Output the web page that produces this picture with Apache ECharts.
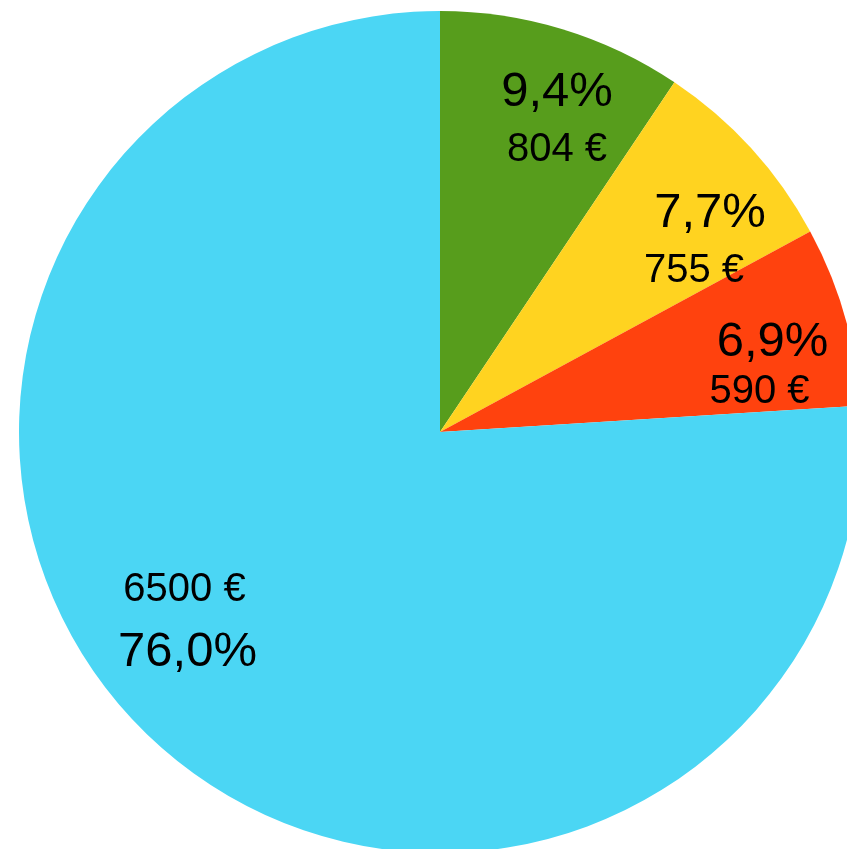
<!DOCTYPE html>
<html>
<head>
<meta charset="utf-8">
<script src="https://cdn.jsdelivr.net/npm/echarts@6/dist/echarts.min.js"></script>
<style>
html,body{margin:0;padding:0;background:#fff;}
#chart{width:847px;height:849px;}
</style>
</head>
<body>
<div id="chart"></div>
<script>
// Data
const percentValues = [9.4, 7.7, 6.9, 76.0];
const amounts = [804, 755, 590, 6500];
const amountFirst = [false, false, false, true];

// Styling
const colors = ['#579d1c', '#ffd320', '#ff420e', '#4bd6f4'];
const pieCenter = [440, 432];
const pieRadius = 421;
// label block centre offsets from the pie centre (px)
const labelOffsets = [[117, -311], [262, -190], [326, -65], [-254, 189]];
const lineHeights = [57, 58, 50, 63];
const pctShift = [0, 16, 13, 3]; // padding to shift percent line
const fontFamily = '"Liberation Sans", Arial, sans-serif';

function fmtPct(v) { return v.toFixed(1).replace('.', ',') + '%'; }

const chart = echarts.init(document.getElementById('chart'), null, { renderer: 'canvas' });

const data = percentValues.map(function (v, i) {
  const s = pctShift[i];
  const pPad = s >= 0 ? [0, 0, 0, s] : [0, -s, 0, 0];
  const aPad = s >= 0 ? [0, s, 0, 0] : [0, 0, 0, -s];
  const pct = '{p|' + fmtPct(v) + '}';
  const amt = '{a|' + amounts[i] + ' €}';
  return {
    value: v,
    itemStyle: { color: colors[i] },
    label: {
      formatter: amountFirst[i] ? amt + '\n' + pct : pct + '\n' + amt,
      rich: {
        p: { fontSize: 49, fontFamily: fontFamily, color: '#000', lineHeight: lineHeights[i], align: 'center', padding: pPad },
        a: { fontSize: 40, fontFamily: fontFamily, color: '#000', lineHeight: lineHeights[i], align: 'center', padding: aPad }
      }
    }
  };
});

chart.setOption({
  animation: false,
  backgroundColor: '#ffffff',
  series: [{
    type: 'pie',
    center: pieCenter,
    radius: pieRadius,
    startAngle: 90,
    clockwise: true,
    avoidLabelOverlap: false,
    silent: true,
    itemStyle: { borderWidth: 0 },
    label: { show: true, position: 'inside' },
    labelLine: { show: false },
    labelLayout: function (params) {
      const o = labelOffsets[params.dataIndex];
      return { x: pieCenter[0] + o[0], y: pieCenter[1] + o[1], align: 'center', verticalAlign: 'middle' };
    },
    data: data
  }]
});
</script>
</body>
</html>
